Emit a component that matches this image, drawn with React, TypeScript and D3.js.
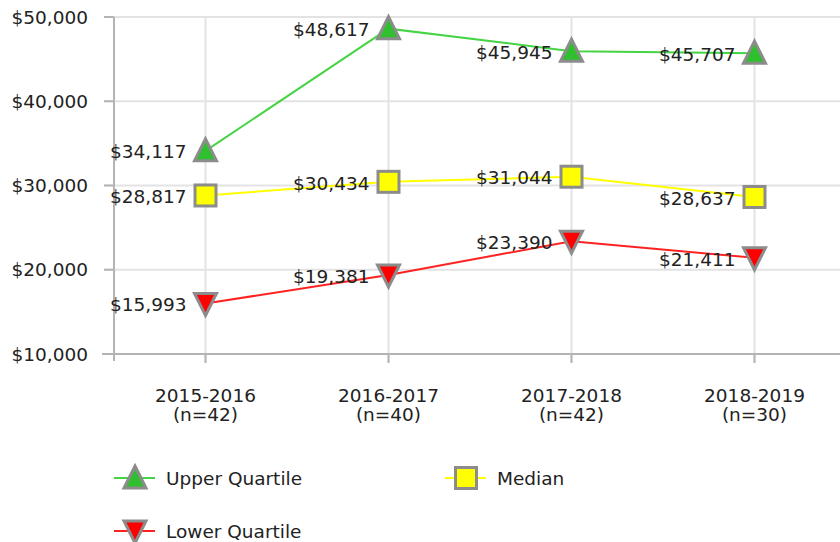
import * as d3 from "d3";
import React from "react";

const years = ["2015-2016", "2016-2017", "2017-2018", "2018-2019"];
const counts = ["(n=42)", "(n=40)", "(n=42)", "(n=30)"];
const upperQuartile = [34117, 48617, 45945, 45707];
const median = [28817, 30434, 31044, 28637];
const lowerQuartile = [15993, 19381, 23390, 21411];
const yTicks = [10000, 20000, 30000, 40000, 50000];

type Series = { name: string; values: number[]; line: string; fill: string; shape: "up" | "square" | "down" };

const series: Series[] = [
  { name: "Upper Quartile", values: upperQuartile, line: "#44d444", fill: "#2fbf2f", shape: "up" },
  { name: "Median", values: median, line: "#ffff00", fill: "#ffff00", shape: "square" },
  { name: "Lower Quartile", values: lowerQuartile, line: "#ff2222", fill: "#ff0000", shape: "down" },
];

const W = 840;
const H = 542;
const left = 114;
const top = 17;
const bottom = 354;
const FONT = "DejaVu Sans, Verdana, sans-serif";
const FS = 18.5;
const fmt = (v: number) => "$" + d3.format(",")(v);

const Marker = ({ shape, fill, x, y }: { shape: string; fill: string; x: number; y: number }) => {
  const stroke = "#8c8c8c";
  if (shape === "square") {
    return <rect x={x - 10.5} y={y - 10.5} width={21} height={21} fill={fill} stroke={stroke} strokeWidth={3} />;
  }
  const h = 11;
  const pts =
    shape === "up"
      ? [[x, y - h - 1], [x + h, y + h - 1], [x - h, y + h - 1]]
      : [[x, y + h + 1], [x + h, y - h + 1], [x - h, y - h + 1]];
  return <polygon points={pts.map((p) => p.join(",")).join(" ")} fill={fill} stroke={stroke} strokeWidth={3} strokeLinejoin="miter" />;
};

export default function App() {
  const x = d3.scalePoint<string>().domain(years).range([left, left + 4 * 183]).padding(0.5);
  const y = d3.scaleLinear().domain([10000, 50000]).range([bottom, top]);
  const line = d3
    .line<number>()
    .x((_, i) => x(years[i]) as number)
    .y((d) => y(d));

  const legendPos = [
    { x: 114, y: 478 },
    { x: 445, y: 478 },
    { x: 114, y: 531 },
  ];

  return (
    <svg width={W} height={H} style={{ position: "absolute", left: 0, top: 0, fontFamily: FONT }}>
      <rect width={W} height={H} fill="#fff" />
      {/* grid */}
      {yTicks.map((t) => (
        <line key={t} x1={left - 10} x2={W} y1={y(t)} y2={y(t)} stroke="#e3e3e3" strokeWidth={2} />
      ))}
      {years.map((c) => (
        <line key={c} x1={x(c)} x2={x(c)} y1={top} y2={bottom + 9} stroke="#e3e3e3" strokeWidth={2} />
      ))}
      {years.map((c) => (
        <line key={c + "t"} x1={x(c)} x2={x(c)} y1={bottom} y2={bottom + 9} stroke="#b4b4b4" strokeWidth={2} />
      ))}
      {yTicks.map((t) => (
        <line key={t + "t"} x1={left - 10} x2={left} y1={y(t)} y2={y(t)} stroke="#b4b4b4" strokeWidth={2} />
      ))}
      <line x1={left} x2={left} y1={top} y2={bottom + 7} stroke="#b4b4b4" strokeWidth={2} />
      <line x1={left - 12} x2={W} y1={bottom} y2={bottom} stroke="#b4b4b4" strokeWidth={2} />
      {/* y labels */}
      {yTicks.map((t) => (
        <text key={t + "l"} x={88} y={y(t)} dy="0.36em" textAnchor="end" fontSize={FS} fill="#222">
          {fmt(t)}
        </text>
      ))}
      {/* x labels */}
      {years.map((c, i) => (
        <text key={c + "l"} x={x(c)} textAnchor="middle" fontSize={FS} fill="#222">
          <tspan x={x(c)} y={402}>{c}</tspan>
          <tspan x={x(c)} y={421}>{counts[i]}</tspan>
        </text>
      ))}
      {/* series */}
      {series.map((s) => (
        <g key={s.name}>
          <path d={line(s.values) || ""} fill="none" stroke={s.line} strokeWidth={2} />
          {s.values.map((v, i) => (
            <Marker key={i} shape={s.shape} fill={s.fill} x={x(years[i]) as number} y={y(v)} />
          ))}
          {s.values.map((v, i) => (
            <text key={"l" + i} x={(x(years[i]) as number) - 19} y={y(v) + 1} dy="0.36em" textAnchor="end" fontSize={FS} fill="#222">
              {fmt(v)}
            </text>
          ))}
        </g>
      ))}
      {/* legend */}
      {series.map((s, i) => {
        const p = legendPos[i];
        return (
          <g key={s.name + "lg"}>
            <line x1={p.x} x2={p.x + 41} y1={p.y} y2={p.y} stroke={s.line} strokeWidth={2} />
            <Marker shape={s.shape} fill={s.fill} x={p.x + 21} y={p.y} />
            <text x={p.x + 52} y={p.y} dy="0.36em" fontSize={FS} fill="#222">
              {s.name}
            </text>
          </g>
        );
      })}
    </svg>
  );
}
